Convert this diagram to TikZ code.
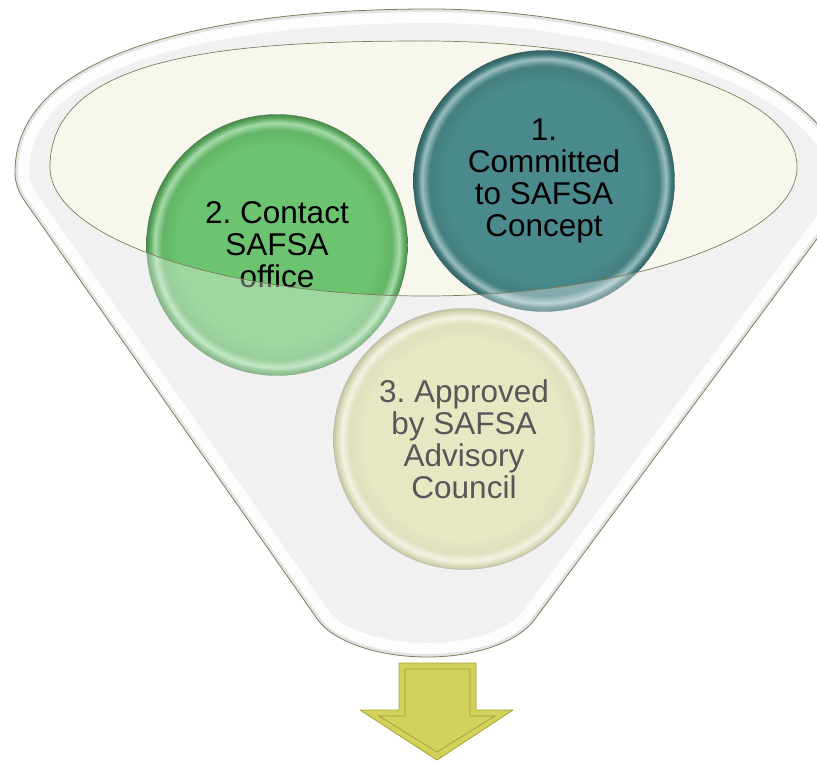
\documentclass[tikz,border=0pt]{standalone}
\usepackage{xcolor}
\usepackage{fontspec}
\setmainfont{Liberation Sans}
\usepackage{tikz}

\definecolor{rimline}{HTML}{7E7E5C}
\definecolor{cream}{HTML}{F7F7EE}
\definecolor{tealball}{HTML}{4A8A8C}
\definecolor{greenball}{HTML}{6CC470}
\definecolor{beigeball}{HTML}{DCDCA6}
\definecolor{arrowfill}{HTML}{D2D25A}
\definecolor{arrowline}{HTML}{A3A32E}

\pgfdeclareradialshading{tealshade}{\pgfpoint{0bp}{0bp}}{color(0bp)=(tealball); color(19bp)=(tealball); color(22bp)=(tealball!92!black); color(23.4bp)=(tealball!55!white); color(24.3bp)=(tealball!88!black); color(25bp)=(tealball!70!black); color(50bp)=(tealball!70!black)}
\pgfdeclareradialshading{greenshade}{\pgfpoint{0bp}{0bp}}{color(0bp)=(greenball); color(19bp)=(greenball); color(22bp)=(greenball!92!black); color(23.4bp)=(greenball!60!white); color(24.3bp)=(greenball!88!black); color(25bp)=(greenball!70!black); color(50bp)=(greenball!70!black)}
\pgfdeclareradialshading{beigeshade}{\pgfpoint{0bp}{0bp}}{color(0bp)=(beigeball); color(19bp)=(beigeball); color(22bp)=(beigeball!95!black); color(23.4bp)=(beigeball!50!white); color(24.3bp)=(beigeball!92!black); color(25bp)=(beigeball!75!black); color(50bp)=(beigeball!75!black)}

\newcommand{\ballfont}{\fontsize{31.5}{32}\selectfont\frenchspacing}
\newcommand{\funnelpath}{(15,172) .. controls (15,40) and (250,9) .. (430,9) .. controls (600,9) and (848,70) .. (848,195) .. controls (848,203) and (842,208) .. (834,216) -- (535,619) .. controls (520,640) and (480,657) .. (427,657) .. controls (375,657) and (332,640) .. (318,620) -- (24,200) .. controls (18,191) and (15,182) .. (15,172) -- cycle}
\newcommand{\rimpath}{(50,167) .. controls (50,55) and (230,41) .. (425,41) .. controls (600,41) and (797,85) .. (797,167) .. controls (797,240) and (620,296) .. (425,296) .. controls (230,296) and (50,240) .. (50,167) -- cycle}

\begin{document}
\begin{tikzpicture}[x=1pt, y=-1pt,
    ball/.style={circle, minimum size=261pt, inner sep=0pt, align=center, font=\ballfont, draw=#1ball!65!black, line width=.4pt, shading=#1shade},
    edge/.style={draw=rimline, line width=.8pt}]
    \useasboundingbox (0,0) rectangle (817,762);

    \fill[black!8] \funnelpath;
    \begin{scope}
        \clip \funnelpath;
        \draw[white, line width=28pt, opacity=.85] \funnelpath;
        \draw[black!16, line width=6pt] \funnelpath;
    \end{scope}
    \fill[cream] \rimpath;

    \node[ball=teal] (committed) at (544,181) {1.\\Committed\\to SAFSA\\Concept};
    \node[ball=green] (contact) at (277,245) {2. Contact\\SAFSA\\office};
    \node[ball=beige] (approved) at (464,439) {3. Approved\\by SAFSA\\Advisory\\Council};

    \fill[white, fill opacity=.34, even odd rule] \funnelpath \rimpath;
    \path[edge] \funnelpath;
    \path[edge, line width=.7pt] \rimpath;

    \draw[arrowline, fill=arrowfill, line width=.8pt, line join=round] (399,663) -- (476,663) -- (476,710) -- (513,710) -- (437,760) -- (360,710) -- (399,710) -- cycle;
    \draw[arrowfill!75!black, line width=.7pt] (405,669) -- (470,669) -- (470,716) -- (495,716) -- (437,752) -- (379,716) -- (405,716) -- cycle;
\end{tikzpicture}
\end{document}
